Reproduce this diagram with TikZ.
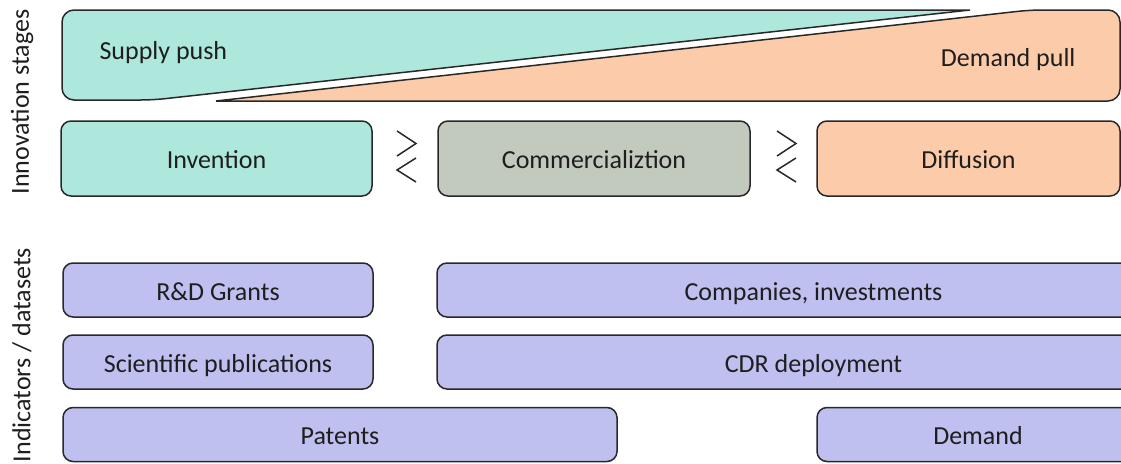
\documentclass[tikz,border=0pt]{standalone}
\usepackage{fontspec}
\setmainfont{Carlito}
\usetikzlibrary{positioning}
\definecolor{supplycol}{RGB}{174,232,220}
\definecolor{demandcol}{RGB}{252,204,170}
\definecolor{commcol}{RGB}{194,201,189}
\definecolor{indcol}{RGB}{191,191,240}
\definecolor{linecol}{RGB}{40,40,40}
\definecolor{textcol}{RGB}{30,30,30}

\begin{document}
\begin{tikzpicture}[x=1pt, y=-1pt, font=\fontsize{26}{30}\selectfont, text=textcol,
    box/.style={draw=linecol, line width=1.5pt, rounded corners=10pt, inner sep=0pt,
        text height=20pt, text depth=0pt},
    stage/.style={box, minimum height=75pt},
    ind/.style={box, fill=indcol, minimum height=54pt},
    wedge/.style={draw=linecol, line width=1.5pt, rounded corners=12pt},
    chev/.style={draw=linecol, line width=1.5pt}]
        \useasboundingbox (0,0) rectangle (1121,463);
        \clip (0,0) rectangle (1121,463);
        % push / pull wedges
        \draw[wedge, fill=supplycol] (970,10) -- (62,10) -- (62,100) -- (153,100) -- (970,10);
        \draw[wedge, fill=demandcol] (216,101) -- (1120,101) -- (1120,10) -- (1030,10) -- (216,101);
        \node[anchor=west] (push) at (96,53) {Supply push};
        \node[anchor=east] (pull) at (1079,60) {Demand pull};
        % stages
        \node[stage, fill=supplycol, minimum width=311pt] (inv) at (216.5,158.5) {Invention};
        \node[stage, fill=commcol, minimum width=312pt] (comm) at (594,158.5) {Commercializtion};
        \node[stage, fill=demandcol, minimum width=303pt] (diff) at (968.5,158.5) {Diffusion};
        \foreach \cx in {406,786} {
            \draw[chev] (\cx-9,131) -- (\cx+10,143.5) -- (\cx-9,156);
            \draw[chev] (\cx+10,158) -- (\cx-9,170) -- (\cx+10,182);
        }
        % indicators
        \foreach \name/\cx/\cy/\w/\txt in
        {grants/218/290/310/{R\&D Grants}, pubs/218/362/310/{Scientific publications},
         patents/340/434.5/554/{Patents}, firms/813.5/290/753/{Companies, investments},
         cdr/813.5/362/753/{CDR deployment}, demand/978/434.5/322/{Demand}}
        \node[ind, minimum width=\w pt] (\name) at (\cx,\cy) {\txt};
        % side labels
        \node[rotate=90] (stagelbl) at (22,102) {Innovation stages};
        \node[rotate=90] (indlbl) at (22,355) {Indicators / datasets};
\end{tikzpicture}
\end{document}
